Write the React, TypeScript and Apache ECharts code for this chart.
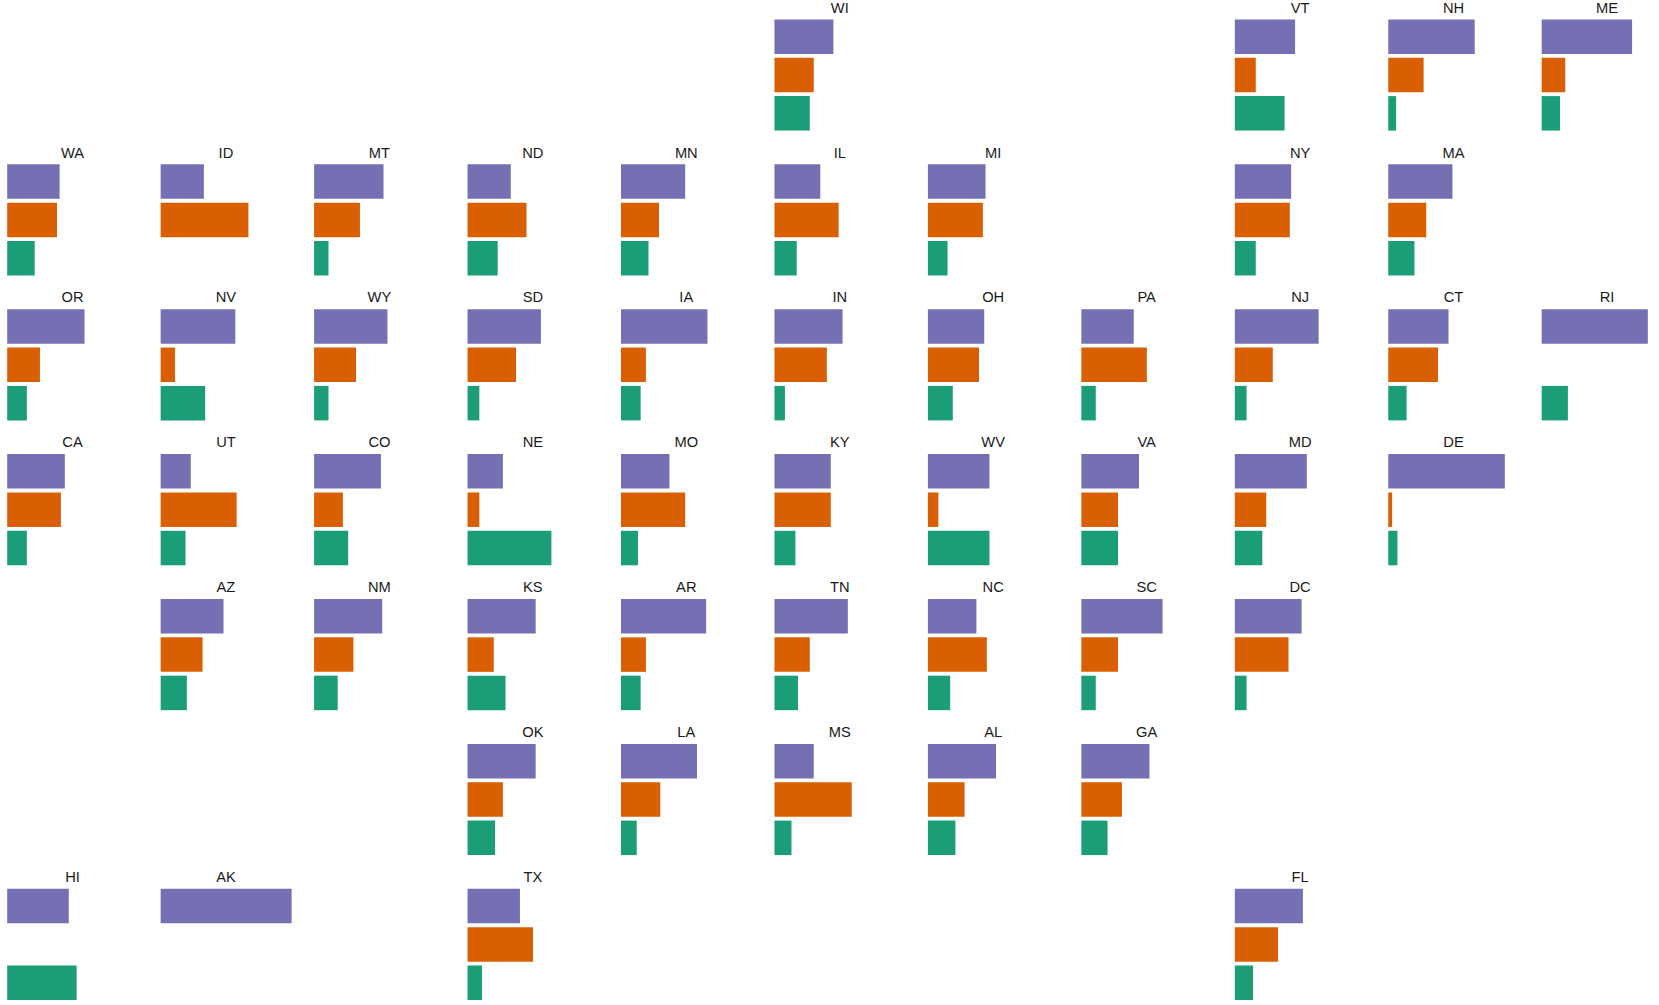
import React, { useEffect, useRef } from "react";
import * as echarts from "echarts";

// State codes and their tile positions (row, column) in the geographic grid
const states = ["WI","VT","NH","ME","WA","ID","MT","ND","MN","IL","MI","NY","MA","OR","NV","WY","SD","IA","IN","OH","PA","NJ","CT","RI","CA","UT","CO","NE","MO","KY","WV","VA","MD","DE","AZ","NM","KS","AR","TN","NC","SC","DC","OK","LA","MS","AL","GA","HI","AK","TX","FL"];
const tileRow = [0,0,0,0,1,1,1,1,1,1,1,1,1,2,2,2,2,2,2,2,2,2,2,2,3,3,3,3,3,3,3,3,3,3,4,4,4,4,4,4,4,4,5,5,5,5,5,6,6,6,6];
const tileCol = [5,8,9,10,0,1,2,3,4,5,6,8,9,0,1,2,3,4,5,6,7,8,9,10,0,1,2,3,4,5,6,7,8,9,1,2,3,4,5,6,7,8,3,4,5,6,7,0,1,3,8];

// Three shares (%) per state, in the order above
const categories = ["Group 1", "Group 2", "Group 3"];
const purpleVals = [45,46,66,69,40,33,53,33,49,35,44,43,49,59,57,56,56,66,52,43,40,64,46,81,44,23,51,27,37,43,47,44,55,89,48,52,52,65,56,37,62,51,52,58,30,52,52,47,100,40,52];
const orangeVals = [30,16,27,18,38,67,35,45,29,49,42,42,29,25,11,32,37,19,40,39,50,29,38,0,41,58,22,9,49,43,8,28,24,3,32,30,20,19,27,45,28,41,27,30,59,28,31,0,0,50,33];
const greenVals = [27,38,6,14,21,0,11,23,21,17,15,16,20,15,34,11,9,15,8,19,11,9,14,20,15,19,26,64,13,16,47,28,21,7,20,18,29,15,18,17,11,9,21,12,13,21,20,53,0,11,14];

const colors = ["#7570b3", "#d95f02", "#1b9e77"];

const COL_STEP = 153.45;
const ROW_STEP = 144.9;
const LEFT0 = 7.2;
const TOP0 = 17.5;
const PANEL_W = 131;
const PANEL_H = 115;

export default function App() {
  const ref = useRef<HTMLDivElement>(null);
  useEffect(() => {
    document.body.style.margin = "0";
    document.body.style.overflow = "hidden";
    const chart = echarts.init(ref.current!, null, { renderer: "svg" });
    const grids: any[] = [];
    const xAxes: any[] = [];
    const yAxes: any[] = [];
    const series: any[] = [];
    const graphics: any[] = [];
    states.forEach((s, i) => {
      const left = LEFT0 + tileCol[i] * COL_STEP;
      const top = TOP0 + tileRow[i] * ROW_STEP;
      grids.push({ left, top, width: PANEL_W, height: PANEL_H, outerBoundsMode: "none", containLabel: false });
      xAxes.push({ type: "value", gridIndex: i, min: 0, max: 100, show: false });
      yAxes.push({ type: "category", gridIndex: i, data: categories, inverse: true, show: false });
      const vals = [purpleVals[i], orangeVals[i], greenVals[i]];
      series.push({
        type: "bar",
        name: s,
        xAxisIndex: i,
        yAxisIndex: i,
        barWidth: 34.5,
        silent: true,
        data: vals.map((v, k) => ({ value: v, itemStyle: { color: colors[k] } })),
      });
      graphics.push({
        type: "text",
        x: left + 65.3,
        y: 7.6 + tileRow[i] * ROW_STEP,
        style: {
          text: s,
          fill: "#1a1a1a",
          font: "14.7px 'Liberation Sans', Arial, sans-serif",
          textAlign: "center",
          textVerticalAlign: "middle",
          align: "center",
          verticalAlign: "middle",
        },
      });
    });
    chart.setOption({
      animation: false,
      backgroundColor: "#ffffff",
      grid: grids,
      xAxis: xAxes,
      yAxis: yAxes,
      series,
      graphic: graphics,
    });
    return () => chart.dispose();
  }, []);
  return <div ref={ref} style={{ width: 1700, height: 1005 }} />;
}
